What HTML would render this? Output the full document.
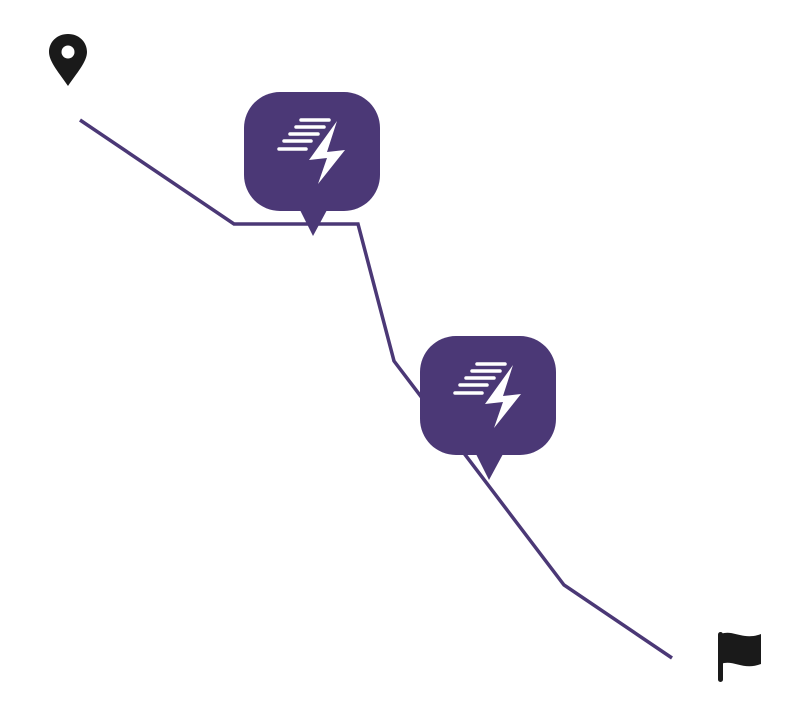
<!DOCTYPE html>
<html><head><style>body{margin:0;background:#fff}</style></head><body>
<svg width="808" height="716" viewBox="0 0 808 716" xmlns="http://www.w3.org/2000/svg">
<polyline points="80,120 234,224 358,224 394,361 564,585 672,658" fill="none" stroke="#4b3876" stroke-width="3.5"/>
<defs>
<g id="b">
<rect x="244" y="92" width="136" height="119" rx="36" fill="#4b3876"/>
<polygon points="300,210 327,210 313,236" fill="#4b3876"/>
<g stroke="#fff" stroke-width="3.5" stroke-linecap="round">
<line x1="301" y1="120" x2="329" y2="120"/>
<line x1="296" y1="127" x2="324" y2="127"/>
<line x1="290" y1="134" x2="318" y2="134"/>
<line x1="284" y1="141" x2="311" y2="141"/>
<line x1="279" y1="149" x2="306" y2="149"/>
</g>
<polygon points="337,121 309,160 327,158 318,184 345,150 327,152" fill="#fff"/>
</g>
</defs>
<use href="#b"/>
<use href="#b" transform="translate(176,244)"/>
<path d="M68,34 C57,34 49,42 49,52 C49,62 60,74 68,86 C76,74 87,62 87,52 C87,42 79,34 68,34 Z" fill="#1a1a1a"/>
<circle cx="68" cy="52" r="6.5" fill="#fff"/>
<rect x="718" y="632" width="5" height="50" rx="2.5" fill="#1a1a1a"/>
<path d="M721,634 C733,629 743,641 761,634 L761,664 C743,671 733,659 721,664 Z" fill="#1a1a1a"/>
</svg>
</body></html>
